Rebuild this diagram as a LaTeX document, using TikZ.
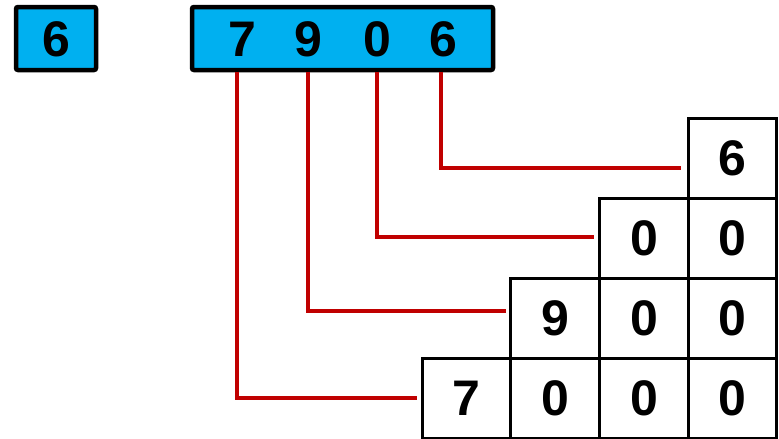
\documentclass[tikz,border=0pt]{standalone}
\usepackage{fontspec}
\setmainfont{Liberation Sans}
\definecolor{boxcyan}{HTML}{00B0F0}
\definecolor{wirered}{HTML}{C00000}
\tikzset{
  digitbox/.style={draw=black, fill=boxcyan, line width=4.5pt, rounded corners=2pt, inner sep=0pt, outer sep=0pt},
  bigdigit/.style={inner sep=0pt, font=\fontsize{50}{50}\selectfont\bfseries},
  cell/.style={draw=black, line width=3pt, minimum width=88.75pt, minimum height=80pt, inner sep=0pt, outer sep=0pt, font=\fontsize{50}{50}\selectfont\bfseries},
  wire/.style={wirered, line width=4.8pt}
}
\begin{document}
\begin{tikzpicture}[x=1pt, y=-1pt]
    \useasboundingbox (0,0) rectangle (779,439);

    % Single digit box
    \node[digitbox, minimum width=80pt, minimum height=63pt] (single) at (56,38.5) {};
    \node[bigdigit] (s6) at (56,39) {6};

    % Number box
    \node[digitbox, minimum width=301pt, minimum height=63pt] (num) at (342.5,38.5) {};
    \node[bigdigit] (d7) at (242,39.5) {7};
    \node[bigdigit] (d9) at (308,39.5) {9};
    \node[bigdigit] (d0) at (377,39.5) {0};
    \node[bigdigit] (d6) at (443,39.5) {6};

    % Staircase of place values
    \node[cell] (c14) at (732.6,158) {\raisebox{-6pt}{6}};
    \node[cell] (c23) at (643.9,238) {0};
    \node[cell] (c24) at (732.6,238) {0};
    \node[cell] (c32) at (555.1,318) {9};
    \node[cell] (c33) at (643.9,318) {0};
    \node[cell] (c34) at (732.6,318) {0};
    \node[cell] (c41) at (466.4,398) {7};
    \node[cell] (c42) at (555.1,398) {0};
    \node[cell] (c43) at (643.9,398) {0};
    \node[cell] (c44) at (732.6,398) {0};

    % Red wires from digits to rows
    \draw[wire, shorten <=2pt, shorten >=7pt] ([xshift=-2pt]d6.south |- num.south) |- ([yshift=-10pt]c14.west);
    \draw[wire, shorten <=2pt, shorten >=6pt] (d0.south |- num.south) |- ([yshift=1pt]c23.west);
    \draw[wire, shorten <=2pt, shorten >=5pt] (d9.south |- num.south) |- ([yshift=7pt]c32.west);
    \draw[wire, shorten <=2pt, shorten >=5pt] ([xshift=-5pt]d7.south |- num.south) |- (c41.west);
\end{tikzpicture}
\end{document}
